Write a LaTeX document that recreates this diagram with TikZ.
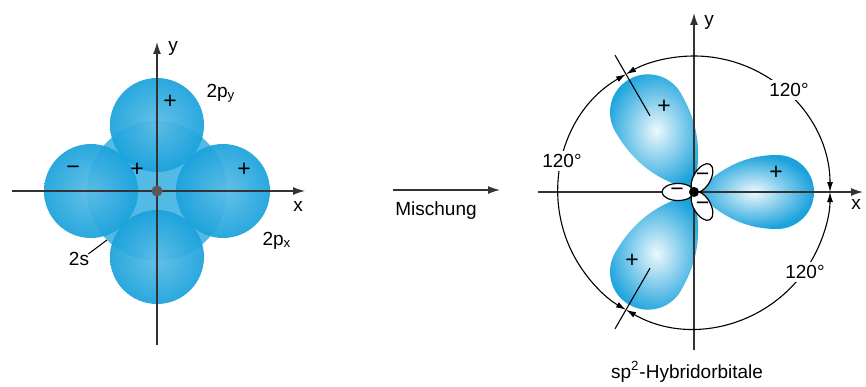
\documentclass[tikz,border=0pt]{standalone}
\usepackage{fontspec}
\setmainfont{Liberation Sans}
\usetikzlibrary{arrows.meta, positioning}

\definecolor{orbblue}{RGB}{26,162,220}

\tikzset{
  coordaxis/.style={line width=0.65pt, draw=black!80, -{Latex[length=6pt,width=4pt]}},
  sphere/.style={inner color=orbblue!72!white, outer color=orbblue, fill opacity=0.93},
  shell/.style={fill=orbblue!75!white},
  lobe/.style={inner color=orbblue!8!white, outer color=orbblue},
  backlobe/.style={draw=black, fill=white, line width=0.6pt},
  sign/.style={font=\fontsize{11.5}{11.5}\selectfont, inner sep=0pt},
  lbl/.style={font=\fontsize{9.5}{11}\selectfont, inner sep=1pt},
  anglelbl/.style={lbl, fill=white, inner sep=1.5pt},
  dimarc/.style={line width=0.55pt, {Latex[length=5pt,width=3pt]}-{Latex[length=5pt,width=3pt]}},
  tick/.style={line width=0.55pt},
}

% teardrop lobe along +x: #1 = length, #2 = radius of the round end
\newcommand\sporb[2]{(0,0) .. controls (16,11) and (38,#2) .. ({#1-#2},#2)
  arc[start angle=90, end angle=-90, radius=#2]
  .. controls (38,-#2) and (16,-11) .. (0,0) -- cycle}

\begin{document}
\begin{tikzpicture}[x=0.5pt, y=0.5pt]
\useasboundingbox (0,0) rectangle (866,386);

% ---- s and p orbitals before mixing
\begin{scope}[shift={(157,195)}]
  \fill[shell] (0,0) circle[radius=70];
  \shade[sphere] (0,-66) circle[radius=47];
  \shade[sphere] (-66,0) circle[radius=47];
  \shade[sphere] (66,0) circle[radius=47];
  \shade[sphere] (0,66) circle[radius=47];

  \coordinate (lxa) at (-145,0);
  \coordinate (lxb) at (148,0);
  \coordinate (lya) at (0,-154);
  \coordinate (lyb) at (0,149);
  \draw[coordaxis] (lxa) -- (lxb);
  \draw[coordaxis] (lya) -- (lyb);
  \fill[black!65] (0,0) circle[radius=5.5];

  \node[lbl] (ly) at (16,143) {y};
  \node[lbl] (lx) at (141,-15) {x};
  \node[sign] (pyplus) at (13,89) {+};
  \node[sign] (pxminus) at (-84,21) {\textminus};
  \node[sign] (splus) at (-20,21) {+};
  \node[sign] (pxplus) at (87,21) {+};
  \node[lbl] (py) at (64,98) {2p\textsubscript{y}};
  \node[lbl] (px) at (120,-50) {2p\textsubscript{x}};
  \node[lbl] (s) at (-78,-68) {2s};
  \coordinate (sball) at (-50,-49);
  \draw[line width=0.5pt] (s.north east) ++(-3,-4) -- (sball);
\end{scope}

% ---- mixing arrow
\coordinate (mixa) at (393,196);
\coordinate (mixb) at (500,196);
\draw[coordaxis] (mixa) -- (mixb);
\node[lbl] (mix) at (436,175) {Mischung};

% ---- sp2 hybrid orbitals
\begin{scope}[shift={(694,194)}]
  \shade[lobe] \sporb{120}{37};
  \begin{scope}[rotate=120]
    \shade[lobe] \sporb{130}{38};
  \end{scope}
  \begin{scope}[rotate=240]
    \shade[lobe] \sporb{130}{38};
  \end{scope}

  \coordinate (rxa) at (-156,0);
  \coordinate (rxb) at (169,0);
  \coordinate (rya) at (0,-158);
  \coordinate (ryb) at (0,179);
  \draw[coordaxis] (rxa) -- (rxb);
  \draw[coordaxis] (rya) -- (ryb);

  % small negative back lobes
  \foreach \ang in {60,180,300} {
    \draw[backlobe, rotate=\ang] (16,0) ellipse[x radius=16, y radius=8.5];
    \node[sign] at (\ang:17) {\textminus};
  }
  \fill[black] (0,0) circle[radius=5];

  % angle markings
  \draw[tick] (120:88) -- (120:158);
  \draw[tick] (240:88) -- (240:158);
  \draw[dimarc] (0:136) arc[start angle=0, end angle=120, radius=136];
  \draw[dimarc] (120:136) arc[start angle=120, end angle=240, radius=136];
  \draw[dimarc] (240:136) arc[start angle=240, end angle=360, radius=136];
  \node[anglelbl] (a1) at (95,102) {120°};
  \node[anglelbl] (a2) at (-132,31) {120°};
  \node[anglelbl] (a3) at (111,-80) {120°};

  \node[lbl] (ry) at (15,170) {y};
  \node[lbl] (rx) at (162,-12) {x};
  \node[sign] (hplusa) at (82,19) {+};
  \node[sign] (hplusb) at (-30,85) {+};
  \node[sign] (hplusc) at (-62,-69) {+};
  \node[lbl] (hyb) at (-7,-180) {sp\textsuperscript{2}-Hybridorbitale};
\end{scope}
\end{tikzpicture}
\end{document}
